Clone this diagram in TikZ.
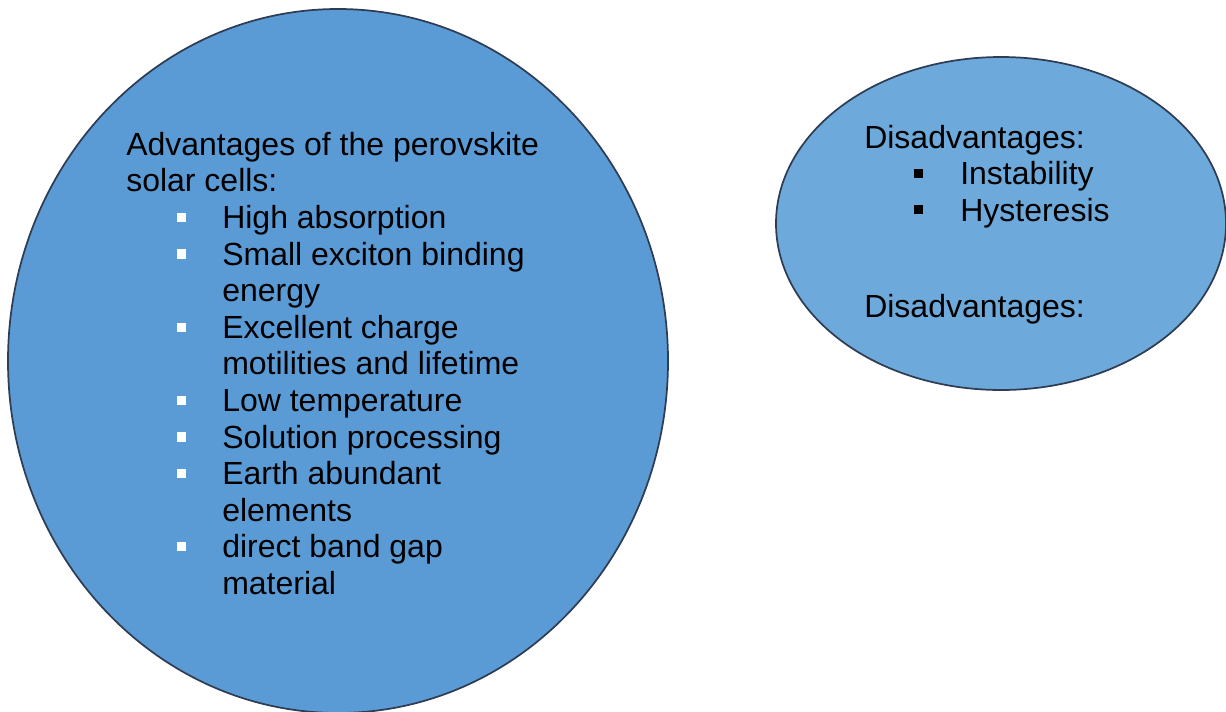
\documentclass[tikz,border=0pt]{standalone}
\usepackage{fontspec}
\setmainfont{Liberation Sans}
\usetikzlibrary{shapes.geometric}
\definecolor{leftfill}{HTML}{5B9BD5}
\definecolor{rightfill}{HTML}{6DAADB}
\definecolor{edgec}{HTML}{2E3D54}
\tikzset{
  blob/.style={ellipse, draw=edgec, line width=1.3pt, inner sep=0pt},
  txt/.style={anchor=base west, inner sep=0pt, font=\fontsize{24}{27.5}\selectfont, text=black},
  wbul/.style={rectangle, fill=white, inner sep=0pt, minimum size=6.8pt},
  kbul/.style={rectangle, fill=black, inner sep=0pt, minimum size=6.8pt},
}
\begin{document}
\begin{tikzpicture}[x=0.75pt, y=-0.75pt]
\useasboundingbox (0,0) rectangle (1226,711);
\clip (0,0) rectangle (1226,711);
\node[blob, fill=leftfill, minimum width=660*0.75pt, minimum height=704*0.75pt] (adv) at (338,361) {};
\node[blob, fill=rightfill, minimum width=450*0.75pt, minimum height=333*0.75pt] (dis) at (1001,223.5) {};
% left text
\node[txt] (a1) at (126,155.2) {Advantages of the perovskite};
\node[txt] (a2) at (126,191.8) {solar cells:};
\node[txt] (b1) at (222,228.4) {High absorption};
\node[txt] (b2) at (222,265.0) {Small exciton binding};
\node[txt] (b2b) at (222,301.6) {energy};
\node[txt] (b3) at (222,338.2) {Excellent charge};
\node[txt] (b3b) at (222,374.8) {motilities and lifetime};
\node[txt] (b4) at (222,411.4) {Low temperature};
\node[txt] (b5) at (222,448.0) {Solution processing};
\node[txt] (b6) at (222,484.6) {Earth abundant};
\node[txt] (b6b) at (222,521.2) {elements};
\node[txt] (b7) at (222,557.8) {direct band gap};
\node[txt] (b7b) at (222,594.4) {material};
\foreach \n/\y in {1/228.4, 2/265.0, 3/338.2, 4/411.4, 5/448.0, 6/484.6, 7/557.8}
  \node[wbul] (wb\n) at (181.3,\y-11) {};
% right text
\node[txt] (d1) at (864,148) {Disadvantages:};
\node[txt] (d2) at (960,184.7) {Instability};
\node[txt] (d3) at (960,221.3) {Hysteresis};
\node[txt] (d4) at (864,317.7) {Disadvantages:};
\node[kbul] (kb1) at (918.7,173.3) {};
\node[kbul] (kb2) at (918.7,209.9) {};
\end{tikzpicture}
\end{document}
